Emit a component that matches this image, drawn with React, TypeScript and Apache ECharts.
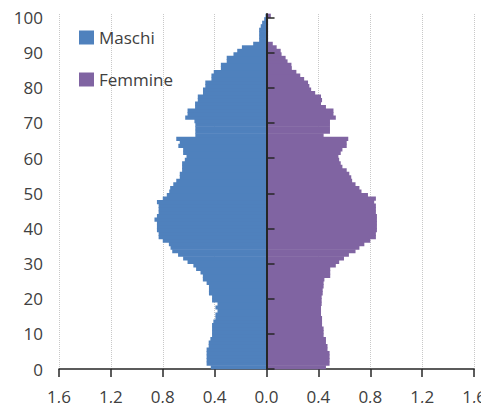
import React, { useEffect, useRef } from 'react';
import * as echarts from 'echarts';

const AGES: string[] = Array.from({ length: 101 }, (_, i) => String(i));

const MALE: number[] = [
  0.43, 0.462, 0.462, 0.462, 0.462, 0.462, 0.446, 0.446, 0.433, 0.42,
  0.42, 0.42, 0.42, 0.41, 0.394, 0.394, 0.378, 0.394, 0.378, 0.42,
  0.42, 0.444, 0.444, 0.444, 0.462, 0.491, 0.491, 0.509, 0.543, 0.564,
  0.609, 0.643, 0.682, 0.727, 0.74, 0.753, 0.8, 0.832, 0.832, 0.845,
  0.845, 0.845, 0.864, 0.845, 0.832, 0.832, 0.832, 0.845, 0.8, 0.769,
  0.75, 0.743, 0.719, 0.696, 0.669, 0.669, 0.651, 0.651, 0.651, 0.63,
  0.617, 0.643, 0.643, 0.68, 0.669, 0.696, 0.549, 0.549, 0.549, 0.549,
  0.556, 0.627, 0.609, 0.609, 0.551, 0.551, 0.53, 0.53, 0.49, 0.49,
  0.472, 0.472, 0.425, 0.425, 0.407, 0.352, 0.352, 0.307, 0.307, 0.255,
  0.226, 0.19, 0.103, 0.057, 0.057, 0.057, 0.057, 0.045, 0.034, 0.018,
  0.008,
];

const FEMALE: number[] = [
  0.458, 0.486, 0.486, 0.486, 0.486, 0.47, 0.47, 0.458, 0.458, 0.44,
  0.44, 0.44, 0.428, 0.428, 0.428, 0.42, 0.42, 0.42, 0.425, 0.425,
  0.425, 0.433, 0.433, 0.44, 0.44, 0.446, 0.491, 0.491, 0.491, 0.534,
  0.56, 0.597, 0.635, 0.686, 0.716, 0.754, 0.8, 0.843, 0.843, 0.851,
  0.851, 0.851, 0.851, 0.851, 0.843, 0.843, 0.843, 0.83, 0.843, 0.782,
  0.732, 0.716, 0.686, 0.66, 0.653, 0.638, 0.618, 0.585, 0.572, 0.56,
  0.554, 0.572, 0.585, 0.618, 0.618, 0.63, 0.44, 0.489, 0.489, 0.489,
  0.489, 0.534, 0.516, 0.516, 0.458, 0.42, 0.428, 0.42, 0.375, 0.344,
  0.33, 0.32, 0.29, 0.26, 0.23, 0.195, 0.192, 0.162, 0.147, 0.116,
  0.109, 0.078, 0.048, 0.012, 0.012, 0.012, 0.012, 0.012, 0.012, 0.012,
  0.033,
];

const Y_TICKS: number[] = [0, 10, 20, 30, 40, 50, 60, 70, 80, 90, 100];

const FONT = 'Open Sans';
const TEXT_COLOR = '#404040';
const AXIS_COLOR = '#262626';
const BLUE = '#4F81BD';
const PURPLE = '#8064A2';

function makeRender(color: string) {
  return (_params: any, api: any) => {
    const v = api.value(0);
    const idx = api.value(1);
    const p0 = api.coord([0, idx]);
    const p1 = api.coord([v, idx]);
    const h = api.size([0, 1])[1];
    return {
      type: 'rect',
      shape: {
        x: Math.min(p0[0], p1[0]),
        y: p0[1] - h / 2 - 0.35,
        width: Math.abs(p1[0] - p0[0]),
        height: h + 0.7,
      },
      style: { fill: color },
    };
  };
}

export default function App() {
  const ref = useRef<HTMLDivElement>(null);

  useEffect(() => {
    if (!ref.current) return;
    const chart = echarts.init(ref.current, undefined, { renderer: 'svg' });
    const option: any = {
      animation: false,
      textStyle: { fontFamily: FONT },
      grid: { left: 59, right: 14, top: 14, bottom: 42, containLabel: false },
      legend: {
        orient: 'vertical',
        left: 79,
        top: 29,
        padding: 0,
        itemWidth: 15,
        itemHeight: 14,
        itemGap: 25,
        icon: 'rect',
        data: ['Maschi', 'Femmine'],
        textStyle: { fontSize: 17, color: TEXT_COLOR, fontFamily: FONT },
      },
      xAxis: {
        type: 'value',
        min: -1.6,
        max: 1.6,
        interval: 0.4,
        axisLine: { show: true, onZero: false, lineStyle: { color: AXIS_COLOR, width: 1.5 } },
        axisTick: { show: true, length: 8, lineStyle: { color: AXIS_COLOR, width: 1.5 } },
        axisLabel: {
          formatter: (v: number) => Math.abs(v).toFixed(1).replace('.', ','),
          fontSize: 17,
          color: TEXT_COLOR,
          fontFamily: FONT,
          margin: 19,
        },
        splitLine: { show: true, lineStyle: { color: '#c8c8c8', width: 1, type: [1, 1] } },
      },
      yAxis: [
        {
          type: 'category',
          data: AGES,
          show: false,
          boundaryGap: true,
          axisLine: { show: false, onZero: false },
        },
        {
          type: 'value',
          min: 0,
          max: 101,
          interval: 10,
          position: 'right',
          z: 10,
          axisLine: { show: true, onZero: true, onZeroAxisIndex: 0, lineStyle: { color: AXIS_COLOR, width: 2 } },
          axisTick: { show: true, inside: false, length: 8, customValues: Y_TICKS, lineStyle: { color: AXIS_COLOR, width: 1.5 } },
          axisLabel: { show: false },
          splitLine: { show: false },
        },
        {
          type: 'value',
          min: 0,
          max: 101,
          interval: 10,
          position: 'left',
          axisLine: { show: false, onZero: false },
          axisTick: { show: false },
          axisLabel: {
            show: true,
            customValues: Y_TICKS,
            fontSize: 17,
            color: TEXT_COLOR,
            fontFamily: FONT,
            margin: 16,
          },
          splitLine: { show: false },
        },
      ],
      series: [
        {
          name: 'Maschi',
          type: 'custom',
          yAxisIndex: 0,
          data: MALE.map((v, i) => [-v, i]),
          encode: { x: 0, y: 1 },
          itemStyle: { color: BLUE },
          renderItem: makeRender(BLUE),
        },
        {
          name: 'Femmine',
          type: 'custom',
          yAxisIndex: 0,
          data: FEMALE.map((v, i) => [v, i]),
          encode: { x: 0, y: 1 },
          itemStyle: { color: PURPLE },
          renderItem: makeRender(PURPLE),
        },
      ],
    };
    chart.setOption(option);
    return () => chart.dispose();
  }, []);

  return <div ref={ref} style={{ width: 489, height: 411, margin: -8 }} />;
}
